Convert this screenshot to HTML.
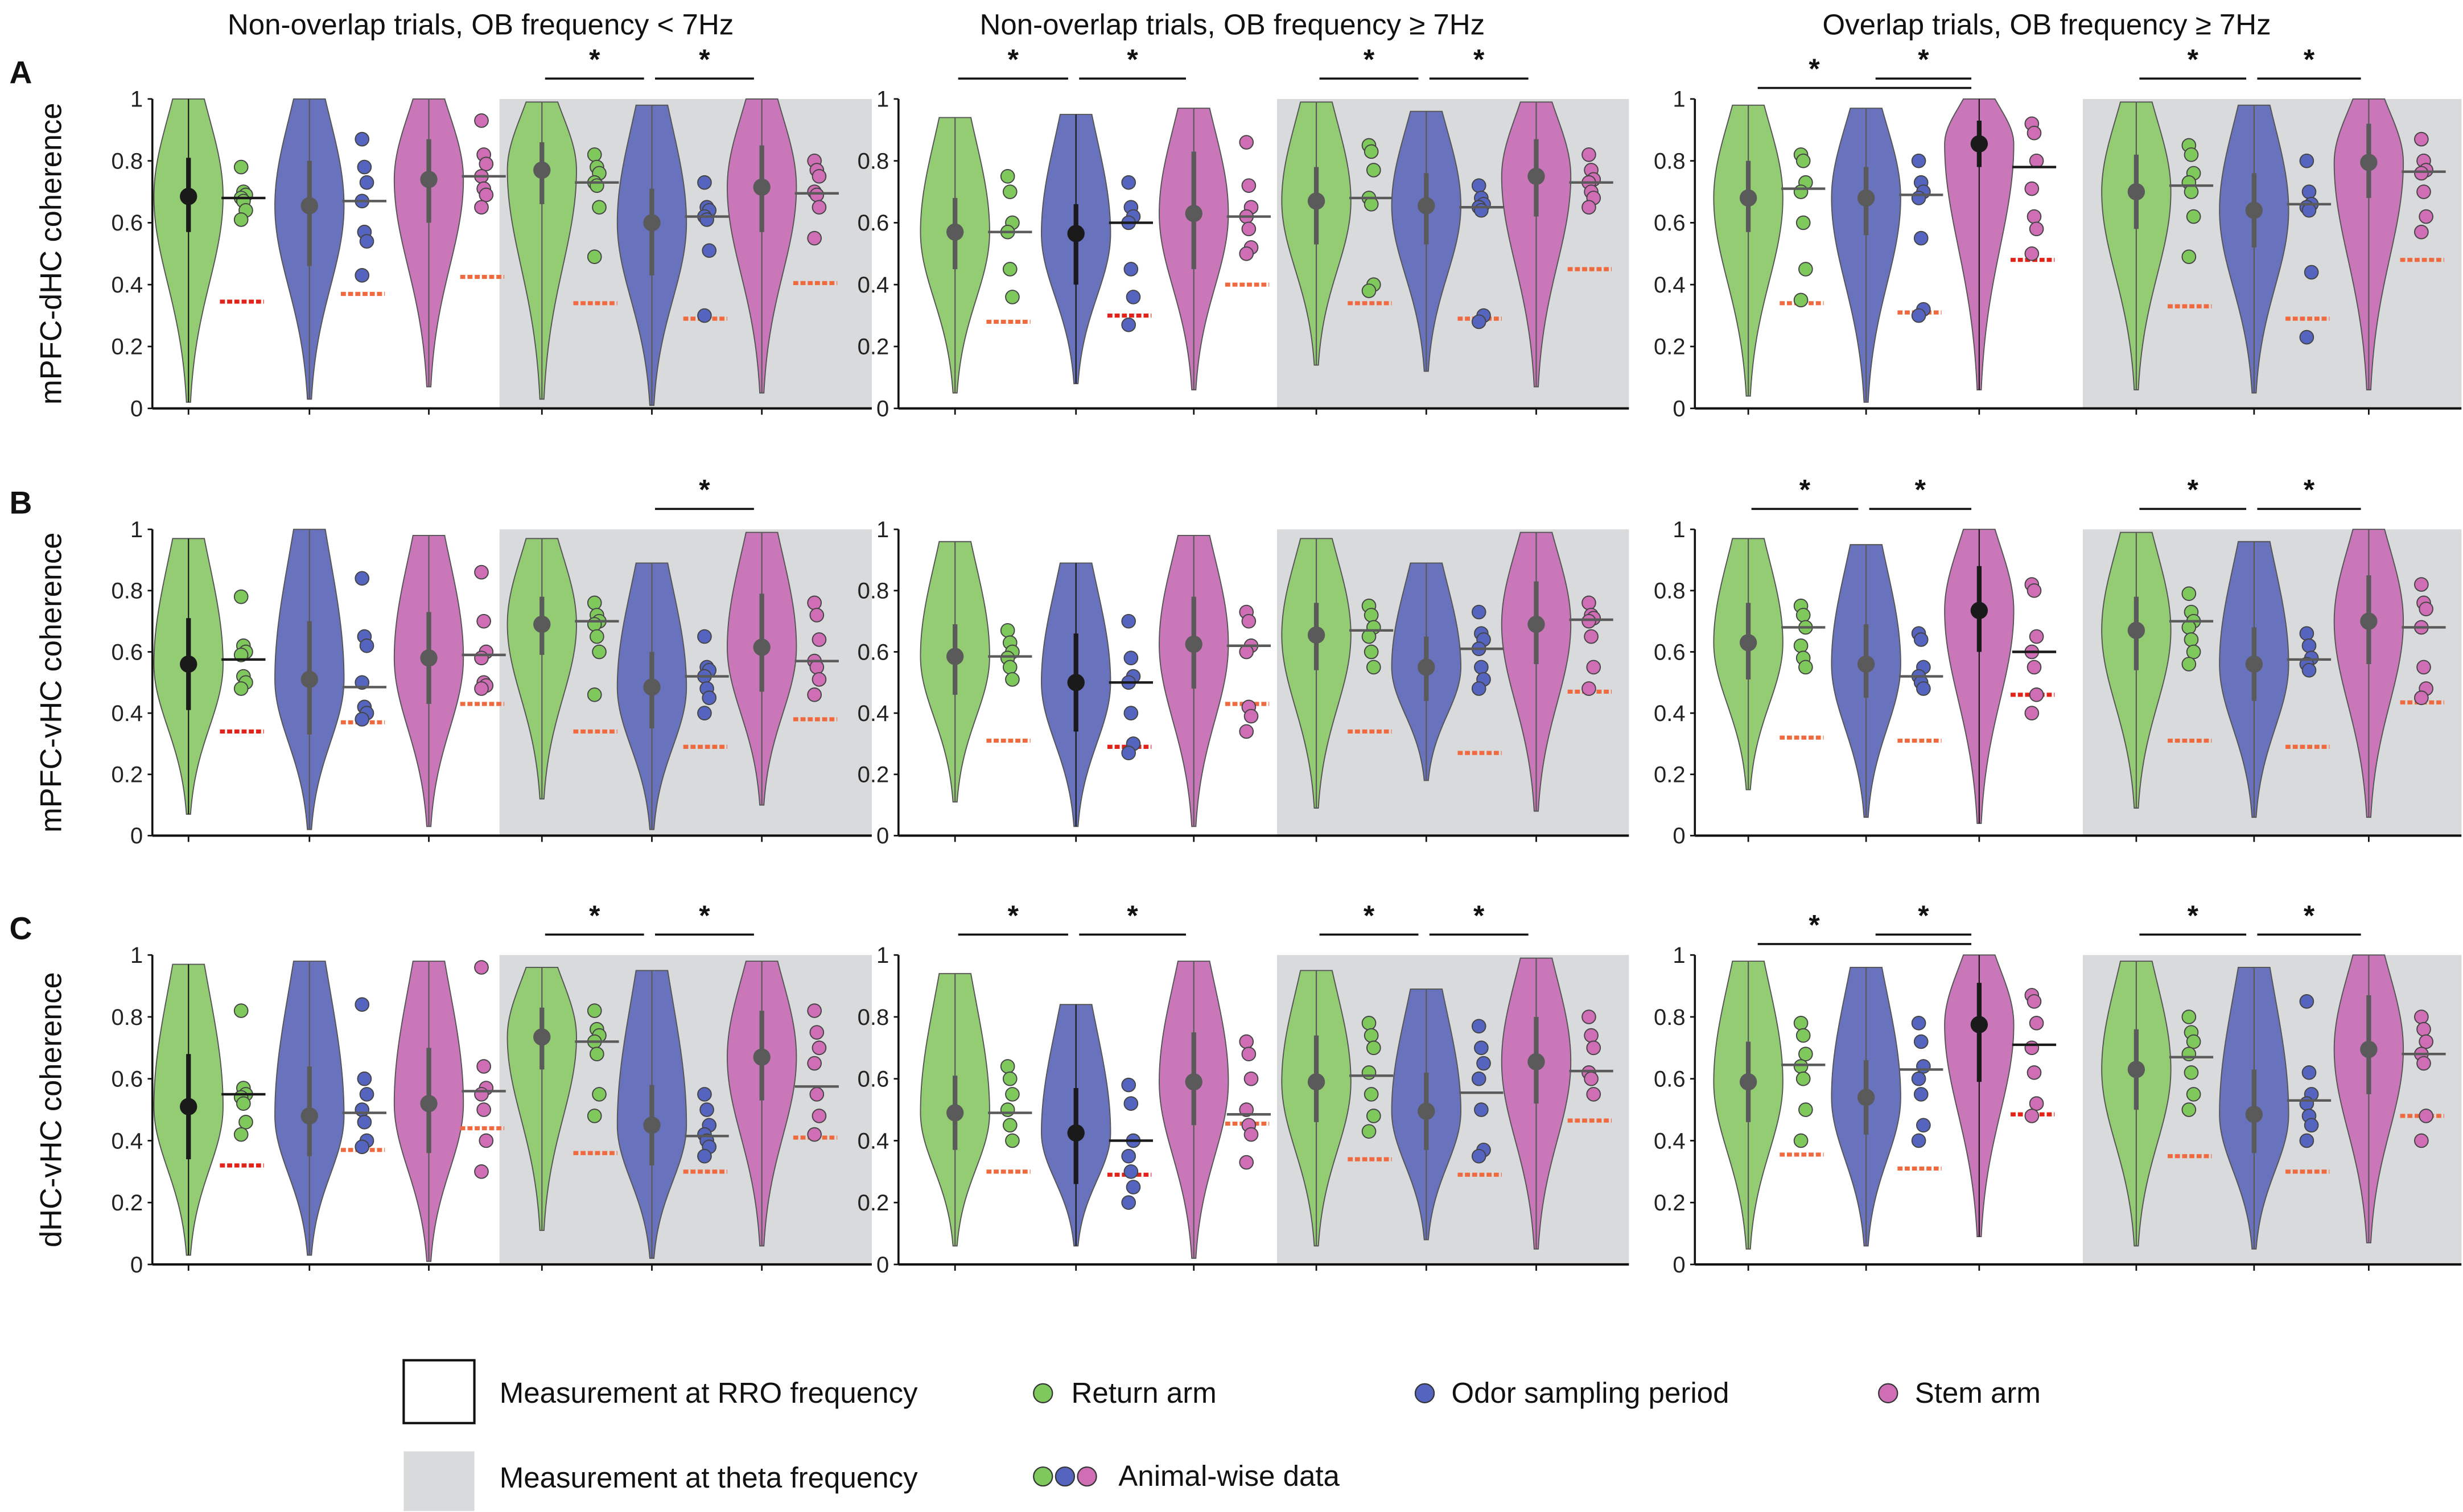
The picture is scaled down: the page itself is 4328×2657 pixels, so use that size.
<!DOCTYPE html>
<html><head><meta charset="utf-8">
<style>
html,body{margin:0;padding:0;background:#fff;}
svg{display:block;}
text{font-family:"Liberation Sans",sans-serif;}
</style></head>
<body>
<svg id="fig" xmlns="http://www.w3.org/2000/svg" width="4328" height="2657" viewBox="0 0 1568 962.6">
<rect x="0" y="0" width="1568" height="962.6" fill="#fff"/>
<g id="marks"></g>
<g font-size="18.5" fill="#111">
  <rect x="257" y="866" width="45" height="40" fill="#fff" stroke="#111" stroke-width="1.5"/>
  <text x="318" y="893">Measurement at RRO frequency</text>
  <rect x="257" y="924" width="45" height="38" fill="#d9dadc"/>
  <text x="318" y="947">Measurement at theta frequency</text>
  <circle cx="664" cy="887" r="6" fill="#7ec85c" stroke="#333" stroke-width="0.8"/>
  <text x="682" y="893">Return arm</text>
  <circle cx="907" cy="887" r="6" fill="#5565bf" stroke="#333" stroke-width="0.8"/>
  <text x="924" y="893">Odor sampling period</text>
  <circle cx="1202" cy="887" r="6" fill="#cf6db5" stroke="#333" stroke-width="0.8"/>
  <text x="1219" y="893">Stem arm</text>
  <circle cx="664" cy="940" r="6" fill="#7ec85c" stroke="#333" stroke-width="0.8"/>
  <circle cx="678" cy="940" r="6" fill="#5565bf" stroke="#333" stroke-width="0.8"/>
  <circle cx="692" cy="940" r="6" fill="#cf6db5" stroke="#333" stroke-width="0.8"/>
  <text x="712" y="946">Animal-wise data</text>
</g>
</svg>
<script>
// ---- data (panel order: A1,A2,A3,B1,B2,B3,C1,C2,C3; 6 violins each) ----
const panelTitles = ["Non-overlap trials, OB frequency < 7Hz","Non-overlap trials, OB frequency \u2265 7Hz","Overlap trials, OB frequency \u2265 7Hz"];
const rowLetters = ["A","B","C"];
const rowLabels = ["mPFC-dHC coherence","mPFC-vHC coherence","dHC-vHC coherence"];
const tickValues = [0,0.2,0.4,0.6,0.8,1];
const tickLabels = ["0","0.2","0.4","0.6","0.8","1"];
const tops = [
 [1,1,1,.99,.98,1],[.94,.95,.97,.99,.96,.99],[.98,.97,1,.99,.98,1],
 [.97,1,.98,.97,.89,.99],[.96,.89,.98,.97,.89,.99],[.97,.95,1,.99,.96,1],
 [.97,.98,.98,.96,.95,.98],[.94,.84,.98,.95,.89,.99],[.98,.96,1,.98,.96,1]];
const bottoms = [
 [.02,.03,.07,.03,.01,.05],[.05,.08,.06,.14,.12,.07],[.04,.02,.06,.06,.05,.06],
 [.07,.02,.03,.12,.02,.10],[.11,.03,.03,.09,.18,.08],[.15,.06,.04,.09,.06,.06],
 [.03,.03,.01,.11,.02,.06],[.06,.06,.02,.06,.08,.05],[.05,.06,.09,.06,.05,.07]];
const medians = [
 [.685,.655,.74,.77,.60,.715],[.57,.565,.63,.67,.655,.75],[.68,.68,.855,.70,.64,.795],
 [.56,.51,.58,.69,.485,.615],[.585,.50,.625,.655,.55,.69],[.63,.56,.735,.67,.56,.70],
 [.51,.48,.52,.735,.45,.67],[.49,.425,.59,.59,.495,.655],[.59,.54,.775,.63,.485,.695]];
const q1s = [
 [.57,.46,.60,.66,.43,.57],[.45,.40,.45,.53,.53,.62],[.57,.56,.78,.58,.52,.68],
 [.41,.33,.43,.59,.35,.47],[.46,.34,.48,.54,.44,.56],[.51,.45,.60,.54,.44,.56],
 [.34,.35,.36,.63,.32,.53],[.37,.26,.45,.46,.37,.52],[.46,.42,.59,.50,.36,.55]];
const q3s = [
 [.81,.80,.87,.86,.71,.85],[.68,.66,.83,.78,.76,.87],[.80,.78,.93,.82,.76,.92],
 [.71,.70,.73,.78,.60,.79],[.69,.66,.78,.76,.65,.83],[.76,.69,.88,.78,.68,.85],
 [.68,.64,.70,.83,.58,.82],[.61,.57,.75,.74,.62,.80],[.72,.66,.91,.76,.63,.87]];
const thresholds = [
 [.345,.37,.425,.34,.29,.405],[.28,.30,.40,.34,.29,.45],[.34,.31,.48,.33,.29,.48],
 [.34,.37,.43,.34,.29,.38],[.31,.29,.43,.34,.27,.47],[.32,.31,.46,.31,.29,.435],
 [.32,.37,.44,.36,.30,.41],[.30,.29,.455,.34,.29,.465],[.355,.31,.485,.35,.30,.48]];
const animalMeans = [
 [.68,.67,.75,.73,.62,.695],[.57,.60,.62,.68,.65,.73],[.71,.69,.78,.72,.66,.765],
 [.575,.485,.59,.70,.52,.57],[.585,.50,.62,.67,.61,.705],[.68,.52,.60,.70,.575,.68],
 [.55,.49,.56,.72,.415,.575],[.49,.40,.485,.61,.555,.625],[.645,.63,.71,.67,.53,.68]];
const animalDots = [
 [[.78,.70,.69,.68,.67,.64,.61],[.87,.78,.73,.67,.57,.54,.43],[.93,.82,.79,.75,.71,.69,.65],[.82,.78,.76,.73,.72,.65,.49],[.73,.65,.64,.62,.61,.51,.30],[.80,.77,.75,.70,.69,.65,.55]],
 [[.75,.70,.60,.57,.45,.36],[.73,.65,.62,.60,.45,.36,.27],[.86,.72,.65,.62,.58,.52,.50],[.85,.83,.77,.68,.66,.40,.38],[.72,.68,.66,.65,.64,.30,.28],[.82,.77,.74,.73,.70,.68,.65]],
 [[.82,.80,.73,.70,.60,.45,.35],[.80,.73,.70,.68,.55,.32,.30],[.92,.89,.80,.71,.62,.58,.50],[.85,.82,.76,.73,.70,.62,.49],[.80,.70,.66,.65,.64,.44,.23],[.87,.80,.77,.76,.70,.62,.57]],
 [[.78,.62,.60,.59,.52,.50,.48],[.84,.65,.62,.50,.42,.40,.38],[.86,.70,.60,.58,.50,.49,.48],[.76,.72,.70,.69,.65,.60,.46],[.65,.55,.54,.52,.48,.45,.40],[.76,.72,.64,.57,.55,.51,.46]],
 [[.67,.63,.60,.58,.55,.51],[.70,.58,.52,.50,.40,.30,.27],[.73,.70,.62,.60,.42,.39,.34],[.75,.72,.68,.65,.60,.55],[.73,.66,.64,.61,.55,.51,.48],[.76,.72,.71,.70,.65,.55,.48]],
 [[.75,.72,.68,.62,.58,.55],[.66,.64,.55,.52,.50,.48],[.82,.80,.65,.60,.55,.46,.40],[.79,.73,.70,.68,.64,.60,.56],[.66,.62,.58,.56,.54],[.82,.76,.74,.68,.55,.48,.45]],
 [[.82,.57,.55,.54,.52,.46,.42],[.84,.60,.55,.50,.46,.40,.38],[.96,.64,.57,.55,.50,.40,.30],[.82,.76,.74,.72,.68,.55,.48],[.55,.50,.45,.42,.40,.38,.35],[.82,.75,.70,.65,.55,.48,.42]],
 [[.64,.60,.55,.50,.45,.40],[.58,.52,.40,.35,.30,.25,.20],[.72,.68,.60,.50,.45,.42,.33],[.78,.74,.70,.62,.55,.48,.43],[.77,.70,.65,.60,.50,.37,.35],[.80,.74,.70,.62,.60,.55]],
 [[.78,.74,.68,.64,.60,.50,.40],[.78,.72,.64,.60,.55,.45,.40],[.87,.85,.78,.70,.62,.52,.48],[.80,.75,.72,.68,.62,.55,.50],[.85,.62,.55,.52,.48,.45,.40],[.80,.76,.72,.68,.65,.48,.40]]];
const darkFlags = [
 [1,0,0,0,0,0],[0,1,0,0,0,0],[0,0,1,0,0,0],
 [1,0,0,0,0,0],[0,1,0,0,0,0],[0,0,1,0,0,0],
 [1,0,0,0,0,0],[0,1,0,0,0,0],[0,0,1,0,0,0]];
// significance bars: [panel, fromViolin, toViolin]
const sigPanels = [0,0,1,1,1,1,2,2,2,2,3,5,5,5,5,6,6,7,7,7,7,8,8,8,8];
const sigFrom   = [3,4,0,1,3,4,0,1,3,4,4,0,1,3,4,3,4,0,1,3,4,0,1,3,4];
const sigTo     = [4,5,1,2,4,5,2,2,4,5,5,1,2,4,5,4,5,1,2,4,5,2,2,4,5];

// ---- layout ----
const rowTop = [63,337,608], rowBot = [260,532,805];
const colAxis = [97,572,1079], colRight = [555,1037,1567], colGray = [318,813,1326];
const colCenters = [[120,197,273,345,415,485],[608,685,760,838,908,978],[1113,1188,1260,1360,1435,1508]];
const fills = ["#93cc72","#6872bd","#c977b9"];
const dotFills = ["#7ec85c","#5565bf","#cf6db5"];
const NS="http://www.w3.org/2000/svg";
const g=document.getElementById('marks');
function mk(tag,attrs,parent){const e=document.createElementNS(NS,tag);for(const k in attrs)e.setAttribute(k,attrs[k]);(parent||g).appendChild(e);return e;}
function yS(r,v){return rowBot[r]-v*(rowBot[r]-rowTop[r]);}

for(let c=0;c<3;c++){
  const t=mk('text',{x:(colAxis[c]+colRight[c])/2-20,y:22,'font-size':'18.5','text-anchor':'middle',fill:'#111'});
  t.textContent=panelTitles[c];
  
  
}
for(let r=0;r<3;r++){
  const L=mk('text',{x:6,y:rowTop[r]-10,'font-size':'20','font-weight':'bold',fill:'#111'});
  L.textContent=rowLetters[r];
  
  
  const ym=(rowTop[r]+rowBot[r])/2;
  const yl=mk('text',{x:0,y:0,'font-size':'19','text-anchor':'middle',fill:'#111',transform:`translate(39,${ym}) rotate(-90)`});
  yl.textContent=rowLabels[r];
  
  
  for(let c=0;c<3;c++){
    const p=r*3+c;
    const pg=mk('g',{});
    
    
    const bg=mk('rect',{x:colGray[c],y:rowTop[r],width:colRight[c]-colGray[c],height:rowBot[r]-rowTop[r],fill:'#d9dadc'},pg);
    
    
    const ya=mk('line',{x1:colAxis[c],x2:colAxis[c],y1:rowTop[r],y2:rowBot[r],stroke:'#111','stroke-width':1.3},pg);
    
    
    tickValues.forEach((tv,i)=>{
      const y=yS(r,tv);
      mk('line',{x1:colAxis[c]-3,x2:colAxis[c],y1:y,y2:y,stroke:'#111','stroke-width':1},pg);
      const tl=mk('text',{x:colAxis[c]-6,y:y+5,'font-size':'14.5','text-anchor':'end',fill:'#222'},pg);
      tl.textContent=tickLabels[i];
      
      
    });
    for(let i=0;i<6;i++){
      const cx=colCenters[c][i], col=i%3;
      const top=tops[p][i], bot=bottoms[p][i], med=medians[p][i];
      const W=22, N=60;
      const sdU=Math.max(0.05,(top-med)*0.8), sdD=Math.max(0.05,(med-bot)*0.42);
      const pts=[];
      for(let k=0;k<=N;k++){
        const v=bot+(top-bot)*k/N;
        const z=v>=med?(v-med)/sdU:(med-v)/sdD;
        const w=Math.max(0.8,W*Math.exp(-0.5*z*z));
        pts.push([v,w]);
      }
      let d='M'+cx+','+yS(r,bot);
      pts.forEach(q=>{d+=' L'+(cx+q[1]).toFixed(2)+','+yS(r,q[0]).toFixed(2);});
      for(let k=pts.length-1;k>=0;k--){d+=' L'+(cx-pts[k][1]).toFixed(2)+','+yS(r,pts[k][0]).toFixed(2);}
      d+=' Z';
      const vp=mk('path',{d:d,fill:fills[col],stroke:'#555','stroke-width':0.7},pg);
      
      
      const dark=darkFlags[p][i];
      const sc=dark?'#1a1a1a':'#5a5a5a';
      mk('line',{x1:cx,x2:cx,y1:yS(r,top),y2:yS(r,bot),stroke:sc,'stroke-width':0.8},pg);
      mk('line',{x1:cx,x2:cx,y1:yS(r,q1s[p][i]),y2:yS(r,q3s[p][i]),stroke:sc,'stroke-width':3},pg);
      const md=mk('circle',{cx:cx,cy:yS(r,med),r:5.5,fill:sc},pg);
      
      
      const th=mk('line',{x1:cx+20,x2:cx+48,y1:yS(r,thresholds[p][i]),y2:yS(r,thresholds[p][i]),stroke:dark?'#e2231a':'#f06a40','stroke-width':2.6,'stroke-dasharray':'3.2,1.4'},pg);
      
      
      animalDots[p][i].forEach((v,k)=>{
        const jx=cx+35+((k%3)-1)*1.5;
        const dt=mk('circle',{cx:jx,cy:yS(r,v),r:4.3,fill:dotFills[col],stroke:'#444','stroke-width':0.7},pg);
        
        
      });
      const ml=mk('line',{x1:cx+21,x2:cx+49,y1:yS(r,animalMeans[p][i]),y2:yS(r,animalMeans[p][i]),stroke:sc,'stroke-width':1.6},pg);
      
      
      mk('line',{x1:cx,x2:cx,y1:rowBot[r],y2:rowBot[r]+4,stroke:'#111','stroke-width':1},pg);
    }
    const xa=mk('line',{x1:colAxis[c],x2:colRight[c],y1:rowBot[r],y2:rowBot[r],stroke:'#111','stroke-width':1.5},pg);
    
    
  }
}
for(let s=0;s<sigPanels.length;s++){
  const p=sigPanels[s], r=Math.floor(p/3), c=p%3;
  const span=sigTo[s]-sigFrom[s];
  const x1=colCenters[c][sigFrom[s]]+(span===2||sigFrom[s]===1&&sigTo[s]===2&&(p===2||p===8)?6:2), x2=colCenters[c][sigTo[s]]-5;
  const yy=(span===2)?rowTop[r]-7:rowTop[r]-13;
  const bl=mk('line',{x1:x1,x2:x2,y1:yy,y2:yy,stroke:'#111','stroke-width':1.3});
  
  
  const sx=(span===2)?colCenters[c][sigFrom[s]]+42:(x1+x2)/2;
  const st=mk('text',{x:sx,y:yy-6,'font-size':'18','font-weight':'bold','text-anchor':'middle',fill:'#111'});
  st.textContent='*';
  
  
}
</script>
</body></html>
